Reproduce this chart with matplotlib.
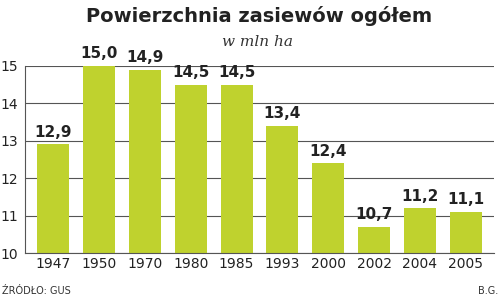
import matplotlib
matplotlib.use('Agg')
import matplotlib.pyplot as plt

# Dane
lata = ['1947', '1950', '1970', '1980', '1985', '1993', '2000', '2002', '2004', '2005']
powierzchnia = [12.9, 15.0, 14.9, 14.5, 14.5, 13.4, 12.4, 10.7, 11.2, 11.1]
etykiety = ['12,9', '15,0', '14,9', '14,5', '14,5', '13,4', '12,4', '10,7', '11,2', '11,1']

kolor = '#bfd22e'

fig = plt.figure(figsize=(5.0, 2.98), dpi=100)
ax = fig.add_axes([0.05, 0.151, 0.938, 0.628])

x = range(len(lata))
ax.bar(x, powierzchnia, width=0.7, color=kolor, zorder=2)

for i, (v, t) in enumerate(zip(powierzchnia, etykiety)):
    ax.text(i, v + 0.12, t, ha='center', va='bottom', fontsize=11,
            fontweight='bold', color='#222222', family='DejaVu Sans')

ax.set_ylim(10, 15)
ax.set_xlim(-0.62, len(lata) - 0.38)
ax.set_yticks([10, 11, 12, 13, 14, 15])
ax.set_xticks(list(x))
ax.set_xticklabels(lata)
ax.grid(axis='y', color='#555555', linewidth=0.8, zorder=0)
ax.tick_params(length=0, labelsize=10, colors='#222222', pad=3)
for lbl in ax.get_xticklabels() + ax.get_yticklabels():
    lbl.set_family('DejaVu Sans')
ax.tick_params(axis='y', pad=5)
for s in ['top', 'right']:
    ax.spines[s].set_visible(False)
ax.spines['left'].set_color('#555555')
ax.spines['bottom'].set_color('#555555')
ax.spines['left'].set_linewidth(0.8)
ax.spines['bottom'].set_linewidth(0.8)

fig.text(0.518, 0.945, 'Powierzchnia zasiewów ogółem', ha='center', va='center',
         fontsize=14, fontweight='bold', color='#222222', family='DejaVu Sans')
fig.text(0.516, 0.858, 'w mln ha', ha='center', va='center', fontsize=11,
         style='italic', color='#333333', family='DejaVu Serif')
fig.text(0.004, 0.025, 'ŹRÓDŁO: GUS', ha='left', va='center', fontsize=7,
         color='#333333', family='DejaVu Sans')
fig.text(0.996, 0.025, 'B.G.', ha='right', va='center', fontsize=7,
         color='#333333', family='DejaVu Sans')

fig.savefig('out.png', dpi=100)
